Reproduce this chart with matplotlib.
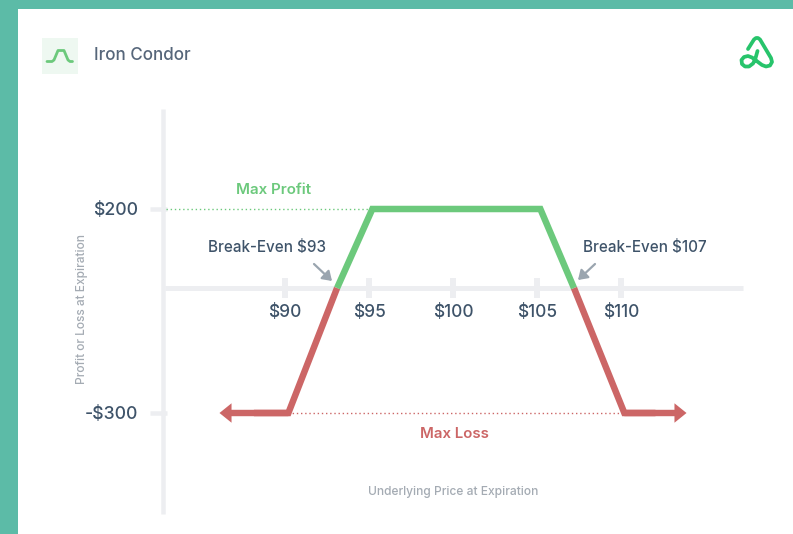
import numpy as np
import matplotlib
matplotlib.use("Agg")
import matplotlib.pyplot as plt
from matplotlib.patches import Rectangle, FancyArrowPatch
from matplotlib.lines import Line2D

W, H = 793, 534
FONT = "Inter"

# data
x_ticks = [90, 95, 100, 105, 110]
x_tick_labels = ["$90", "$95", "$100", "$105", "$110"]
y_ticks = [200, -300]
y_tick_labels = ["$200", "-$300"]
profit_x = [93.1, 95.2, 105.2, 107.2]
profit_y = [0, 200, 200, 0]
loss_left_x = [86.1, 90.2, 93.1]
loss_left_y = [-300, -300, 0]
loss_right_x = [107.2, 110.2, 113.9]
loss_right_y = [0, -300, -300]

TEAL = "#5CBBA7"; TEXT = "#3E5369"; GREEN = "#6CC97C"; RED = "#CC6666"
AXIS = "#EDEEF1"; MUTED = "#A4ABB3"; ARROW = "#9AA5AF"

fig = plt.figure(figsize=(W/100, H/100), dpi=100, facecolor="white")
ax = fig.add_axes([0, 0, 1, 1])

def fwd(v):
    return np.interp(v, [-1000, -300, 0, 200, 1000], [-415.67, -125, 0, 79, 395])
def inv(v):
    return np.interp(v, [-415.67, -125, 0, 79, 395], [-1000, -300, 0, 200, 1000])
ax.set_yscale("function", functions=(fwd, inv))
ax.set_xlim(90 - 285/16.8, 90 + (W-285)/16.8)
ax.set_ylim(inv(np.array(288.0-H)), inv(np.array(288.0)))
ax.axis("off")

def px(x, y):
    return (x/W, 1 - y/H)

# frame bands
fig.add_artist(Rectangle((0, 1-9/H), 1, 9/H, transform=fig.transFigure, fc=TEAL, ec="none"))
fig.add_artist(Rectangle((0, 0), 18/W, 1, transform=fig.transFigure, fc=TEAL, ec="none"))

lw = lambda p: p*0.72
# axes lines
ax.plot([x_px/W for x_px in (165, 743)], [1-288/H]*2, transform=ax.transAxes, color=AXIS, lw=lw(5), solid_capstyle="butt", zorder=1)
ax.plot([163/W]*2, [1-109/H, 1-514/H], transform=ax.transAxes, color=AXIS, lw=lw(4.5), solid_capstyle="butt", zorder=1)

# ticks
tick_tf = ax.get_xaxis_transform()
for t, lab in zip(x_ticks, x_tick_labels):
    ax.plot([t, t], [1-278/H, 1-298/H], transform=tick_tf, color=AXIS, lw=lw(6), solid_capstyle="butt", zorder=1)
    ax.text(t, 1-312.5/H, lab, transform=tick_tf, ha="center", va="center", color=TEXT, fontsize=12.4, family=FONT, fontweight="medium")
ytf = ax.get_yaxis_transform()
for t, lab in zip(y_ticks, y_tick_labels):
    ax.plot([150/W, 167/W], [t, t], transform=ytf, color=AXIS, lw=lw(4.5), solid_capstyle="butt", zorder=1)
    ax.annotate(lab, xy=(138/W, t), xycoords=ytf, xytext=(0, -0.9), textcoords="offset points", ha="right", va="center", color=TEXT, fontsize=12.7, family=FONT, fontweight="medium")

# dotted guides
ax.plot([82.9, 95.2], [200, 200], color=GREEN, lw=1, ls=(0, (1, 2)), zorder=2)
ax.plot([90.2, 110.2], [-300, -300], color=RED, lw=1, ls=(0, (1, 2)), zorder=2)

# payoff
LW = lw(6.5)
ax.plot(profit_x, profit_y, color=GREEN, lw=LW, solid_joinstyle="miter", solid_capstyle="butt", zorder=4)
ax.plot([(loss_left_x[0]+loss_left_x[1])/2]+loss_left_x[1:], loss_left_y, color=RED, lw=LW, solid_joinstyle="miter", solid_capstyle="butt", zorder=3)
ax.plot(loss_right_x[:2]+[(loss_right_x[1]+loss_right_x[2])/2], loss_right_y, color=RED, lw=LW, solid_joinstyle="miter", solid_capstyle="butt", zorder=3)
for a, b in ((loss_left_x[1], loss_left_x[0]), (loss_right_x[1], loss_right_x[2])):
    ax.add_patch(FancyArrowPatch((a, -300), (b, -300), arrowstyle="simple,head_length=0.62,head_width=1.0,tail_width=0.33",
                                 mutation_scale=14, color=RED, lw=0, shrinkA=0, shrinkB=0, zorder=3))

# annotations
ax.text(273.5/W, 1-190/H, "Max Profit", transform=ax.transAxes, ha="center", va="center", color=GREEN, fontsize=10.9, family=FONT, fontweight="semibold")
ax.text(454.5/W, 1-434.5/H, "Max Loss", transform=ax.transAxes, ha="center", va="center", color=RED, fontsize=10.8, family=FONT, fontweight="semibold")
ax.text(267/W, 1-247.5/H, "Break-Even $93", transform=ax.transAxes, ha="center", va="center", color=TEXT, fontsize=10.95, family=FONT, fontweight="medium")
ax.text(645/W, 1-247.5/H, "Break-Even $107", transform=ax.transAxes, ha="center", va="center", color=TEXT, fontsize=10.95, family=FONT, fontweight="medium")
ax.text(453/W, 1-492/H, "Underlying Price at Expiration", transform=ax.transAxes, ha="center", va="center", color=MUTED, fontsize=8.65, family=FONT, fontweight="medium")
ax.text(81.5/W, 1-308.5/H, "Profit or Loss at Expiration", transform=ax.transAxes, ha="center", va="center", rotation=90, color=MUTED, fontsize=8.6, family=FONT, fontweight="medium")
ax.text(94/W, 1-56/H, "Iron Condor", transform=ax.transAxes, ha="left", va="center", color="#56667A", fontsize=12.25, family=FONT, fontweight="medium")

for s, e in (((314, 264), (332, 281)), ((595, 264), (578, 280))):
    fig.add_artist(FancyArrowPatch(px(*s), px(*e), transform=fig.transFigure, arrowstyle="-|>,head_length=0.45,head_width=0.3",
                                   mutation_scale=12, color=ARROW, lw=1.6, shrinkA=0, shrinkB=0))

# header icon
fig.add_artist(Rectangle(px(42, 74), 36/W, 36/H, transform=fig.transFigure, fc="#EEF8F1", ec="none"))
ix = np.array([47, 52, 54, 58, 64, 68, 70, 72.5]); iy = np.array([61.5, 61.5, 60, 50.5, 50.5, 60, 61.5, 61.5])
fig.add_artist(Line2D(ix/W, 1-iy/H, transform=fig.transFigure, color=GREEN, lw=2, solid_capstyle="round", solid_joinstyle="round"))

# logo
LOGO = "#27C46B"
lx = np.array([748, 754, 756, 758, 760, 771, 772, 770, 766, 762, 752, 748, 744, 741.5, 742, 745, 749, 753, 755, 757.5])
ly = np.array([49, 39.5, 38, 38, 39.5, 58, 62, 65.5, 66.5, 65, 57.5, 56, 57, 60, 64, 66.5, 66.5, 63.5, 60, 51])
fig.add_artist(Line2D(lx/W, 1-ly/H, transform=fig.transFigure, color=LOGO, lw=2.7, solid_capstyle="round", solid_joinstyle="round"))

fig.savefig("out.png", dpi=100, facecolor="white")
